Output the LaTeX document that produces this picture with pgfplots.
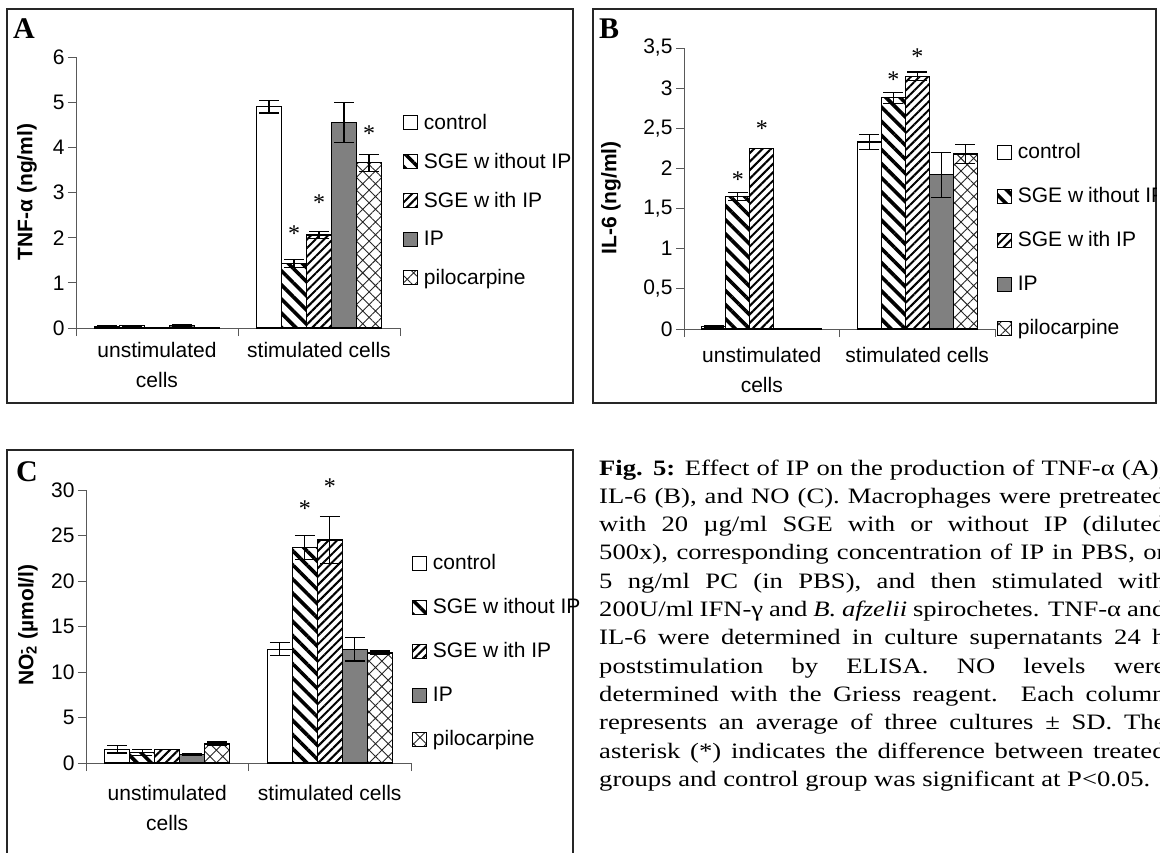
\documentclass[border=0pt]{standalone}
\usepackage{fontspec}
\setmainfont{Liberation Sans}
\newfontfamily\seriffont{Liberation Serif}
\usepackage{graphicx}
\usepackage{pgfplots}
\pgfplotsset{compat=1.18}
\usetikzlibrary{patterns.meta}

\newcommand{\tl}{\fontsize{21}{30}\selectfont}
\newcommand{\capline}[1]{\makebox[468pt][s]{#1}}
\pgfplotsset{
  panel/.style={
    scale only axis, ybar=0pt, bar width=25pt,
    axis lines*=left, xmin=0, xmax=2, ymin=0, clip=false,
    xtick={0.5,1.5}, xticklabels={{unstimulated\\cells},{stimulated cells}},
    xticklabel style={align=center, font=\tl},
    yticklabel style={font=\tl},
    major x tick style={draw=none},
    minor xtick={0,1,2},
    tick align=outside, major tick length=8pt, minor tick length=8pt,
    axis line style={black!65, line width=1pt},
    tick style={black!65, line width=1pt},
    /pgf/number format/assume math mode=true,
    legend style={draw=none, fill=none, anchor=north west, inner sep=0pt, outer sep=0pt,
      font=\tl, column sep=6pt, nodes={inner sep=0pt, anchor=west, minimum height=38.7pt}},
    legend cell align=left,
    legend image code/.code={\draw[##1,line width=1pt] (0pt,-7pt) rectangle (14pt,7pt);},
    error bars/y dir=both, error bars/y explicit,
    error bars/error bar style={black, line width=1.2pt},
    error bars/error mark options={black, rotate=90, mark size=10pt, line width=1.2pt},
  },
  sA/.style={fill=white, draw=black, line width=1.2pt},
  sB/.style={draw=black, line width=1.2pt, pattern={Lines[angle=-45,distance=10pt,line width=3.6pt]}},
  sC/.style={draw=black, line width=1.2pt, pattern={Lines[angle=45,distance=6pt,line width=2pt]}},
  sD/.style={fill=black!50, draw=black, line width=1.2pt},
  sE/.style={draw=black, line width=1.2pt, pattern={Hatch[angle=45,distance=9pt,line width=0.9pt]}, pattern color=black!85},
}

\begin{document}
\begin{tikzpicture}[x=1pt,y=1pt]
\useasboundingbox (0,0) rectangle (1160,-852);
\clip (0,0) rectangle (1160,-852);

% ---------------- Panel A
\draw[line width=1.5pt, black!85] (7,-9) rectangle (573,-403);
\node[font=\seriffont\bfseries\fontsize{30}{30}\selectfont, anchor=base west, inner sep=0pt] at (13,-38) {A};
\node[rotate=90, font=\bfseries\tl] at (27,-192) {TNF-α (ng/ml)};
\begin{axis}[panel, at={(76pt,-328pt)}, anchor=south west, width=324pt, height=271pt,
  ymax=6, ytick={0,1,...,6}, xticklabel style={yshift=-3pt},
  legend style={at={(1.009,0.828)}}]
\addplot+[sA] coordinates {(0.5,0.04) +- (0,0.01) (1.5,4.90) +- (0,0.14)};
\addplot+[sB] coordinates {(0.5,0.05) +- (0,0.01) (1.5,1.43) +- (0,0.09)};
\addplot+[sC] coordinates {(0.5,0.01) +- (0,0) (1.5,2.06) +- (0,0.08)};
\addplot+[sD] coordinates {(0.5,0.06) +- (0,0.02) (1.5,4.55) +- (0,0.44)};
\addplot+[sE] coordinates {(0.5,0.01) +- (0,0) (1.5,3.66) +- (0,0.19)};
\legend{control, SGE w\hspace{5pt}ithout IP, SGE w\hspace{5pt}ith IP, IP, pilocarpine}
\node[font=\seriffont\fontsize{24}{24}\selectfont, xshift=-25pt] at (axis cs:1.5,2.10) {*};
\node[font=\seriffont\fontsize{24}{24}\selectfont] at (axis cs:1.5,2.77) {*};
\node[font=\seriffont\fontsize{24}{24}\selectfont, xshift=50pt] at (axis cs:1.5,4.31) {*};
\end{axis}

% ---------------- Panel B
\draw[line width=1.5pt, black!85] (593,-9) rectangle (1156,-403);
\node[font=\seriffont\bfseries\fontsize{30}{30}\selectfont, anchor=base west, inner sep=0pt] at (599,-38) {B};
\node[rotate=90, font=\bfseries\tl] at (611,-198) {IL-6 (ng/ml)};
\begin{scope}
\clip (593,-9) rectangle (1156,-403);
\begin{axis}[panel, at={(684pt,-329pt)}, anchor=south west, width=311pt, height=281pt,
  bar width=24pt, xticklabel style={yshift=-7pt},
  ymax=3.5, ytick={0,0.5,...,3.5}, /pgf/number format/use comma,
  legend style={at={(1.006,0.708)}, nodes={minimum height=44pt}}]
\addplot+[sA] coordinates {(0.5,0.03) +- (0,0.01) (1.5,2.33) +- (0,0.09)};
\addplot+[sB] coordinates {(0.5,1.65) +- (0,0.05) (1.5,2.88) +- (0,0.07)};
\addplot+[sC] coordinates {(0.5,2.25) +- (0,0) (1.5,3.15) +- (0,0.05)};
\addplot+[sD] coordinates {(0.5,0.005) +- (0,0) (1.5,1.92) +- (0,0.28)};
\addplot+[sE] coordinates {(0.5,0.0) +- (0,0) (1.5,2.18) +- (0,0.12)};
\legend{control, SGE w\hspace{5pt}ithout IP, SGE w\hspace{5pt}ith IP, IP, pilocarpine}
\node[font=\seriffont\fontsize{24}{24}\selectfont, xshift=-24pt] at (axis cs:0.5,1.86) {*};
\node[font=\seriffont\fontsize{24}{24}\selectfont] at (axis cs:0.5,2.49) {*};
\node[font=\seriffont\fontsize{24}{24}\selectfont, xshift=-24pt] at (axis cs:1.5,3.11) {*};
\node[font=\seriffont\fontsize{24}{24}\selectfont] at (axis cs:1.5,3.39) {*};
\end{axis}
\end{scope}

% ---------------- Panel C
\draw[line width=1.5pt, black!85] (7,-450) rectangle (573,-860);
\node[font=\seriffont\bfseries\fontsize{30}{30}\selectfont, anchor=base west, inner sep=0pt] at (16,-481) {C};
\node[rotate=90, font=\bfseries\tl] at (28,-625) {NO\rlap{\textsuperscript{-}}\textsubscript{2} (µmol/l)};
\begin{axis}[panel, at={(86pt,-763pt)}, anchor=south west, width=325pt, height=273pt,
  ymax=30, ytick={0,5,...,30}, xticklabel style={yshift=-11pt},
  legend style={at={(1.003,0.813)}, nodes={minimum height=44pt}}]
\addplot+[sA] coordinates {(0.5,1.50) +- (0,0.4) (1.5,12.5) +- (0,0.7)};
\addplot+[sB] coordinates {(0.5,1.15) +- (0,0.3) (1.5,23.7) +- (0,1.3)};
\addplot+[sC] coordinates {(0.5,1.45) +- (0,0) (1.5,24.5) +- (0,2.6)};
\addplot+[sD] coordinates {(0.5,0.95) +- (0,0.1) (1.5,12.5) +- (0,1.3)};
\addplot+[sE] coordinates {(0.5,2.10) +- (0,0.2) (1.5,12.1) +- (0,0.2)};
\legend{control, SGE w\hspace{5pt}ithout IP, SGE w\hspace{5pt}ith IP, IP, pilocarpine}
\node[font=\seriffont\fontsize{24}{24}\selectfont, xshift=-25pt] at (axis cs:1.5,28.0) {*};
\node[font=\seriffont\fontsize{24}{24}\selectfont] at (axis cs:1.5,30.4) {*};
\end{axis}

% ---------------- Caption
\node[anchor=base west, inner sep=0pt] at (599,-475) {\scalebox{1.21}[1]{\parbox[t]{470pt}{%
\seriffont\fontsize{22}{28.3}\selectfont\raggedright
\capline{\textbf{Fig. 5:} Effect of IP on the production of TNF-α (A),}\\
\capline{IL-6 (B), and NO (C). Macrophages were pretreated}\\
\capline{with 20 µg/ml SGE with or without IP (diluted}\\
\capline{500x), corresponding concentration of IP in PBS, or}\\
\capline{5 ng/ml PC (in PBS), and then stimulated with}\\
\capline{200U/ml IFN-γ and \textit{B. afzelii} spirochetes. TNF-α and}\\
\capline{IL-6 were determined in culture supernatants 24 h}\\
\capline{poststimulation by ELISA. NO levels were}\\
\capline{determined with the Griess reagent. Each column}\\
\capline{represents an average of three cultures ± SD. The}\\
\capline{asterisk (*) indicates the difference between treated}\\
groups and control group was significant at P<0.05.}}};
\end{tikzpicture}
\end{document}
